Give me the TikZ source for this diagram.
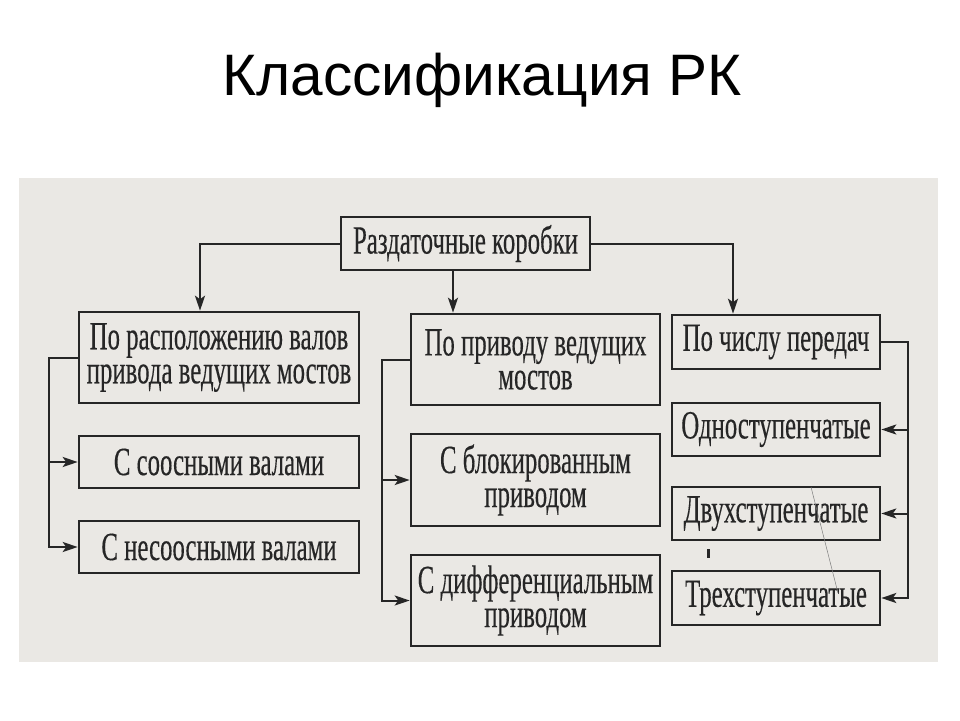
\documentclass[tikz,border=0pt]{standalone}
\usepackage{fontspec}
\setmainfont{Liberation Serif}
\newfontfamily\titlefont{Liberation Sans}
\newfontfamily\boxfont[FakeStretch=0.62,FakeBold=0.3]{Liberation Serif}
\usetikzlibrary{arrows.meta}
\definecolor{scan}{HTML}{EAE8E4}
\definecolor{ink}{HTML}{262626}
\tikzset{
  bx/.style={draw=ink, line width=2.6pt, inner sep=0pt, align=center,
    font=\boxfont\fontsize{40}{34}\selectfont, text=ink},
  conn/.style={draw=ink, line width=2pt},
  arr/.style={conn, -{Stealth[length=15pt, width=10pt, inset=3.5pt]}}
}
\begin{document}
\begin{tikzpicture}[x=1pt,y=-1pt]
\useasboundingbox[fill=white] (0,0) rectangle (960,720);
\fill[scan] (19,178) rectangle (938,662);
\node[font=\titlefont\fontsize{58.5}{60}\selectfont, anchor=base] (title) at (482,95) {Классификация РК};
% boxes
\node[bx, minimum width=249pt, minimum height=53pt] (top) at (465.5,243.5) {Раздаточные коробки};
\node[bx, minimum width=280pt, minimum height=91pt] (A1) at (219,357.5) {По расположению валов\\привода ведущих мостов};
\node[bx, minimum width=280pt, minimum height=52pt] (A2) at (219,462) {С соосными валами};
\node[bx, minimum width=280pt, minimum height=52pt] (A3) at (219,547) {С несоосными валами};
\node[bx, minimum width=249pt, minimum height=91pt] (B1) at (535.5,359.5) {По приводу ведущих\\мостов};
\node[bx, minimum width=249pt, minimum height=92pt] (B2) at (535.5,480) {С блокированным\\приводом};
\node[bx, minimum width=249pt, minimum height=91pt] (B3) at (535.5,600.5) {С дифференциальным\\приводом};
\node[bx, minimum width=208pt, minimum height=54pt] (C1) at (776,342) {По числу передач};
\node[bx, minimum width=208pt, minimum height=53pt] (C2) at (776,429.5) {Одноступенчатые};
\node[bx, minimum width=208pt, minimum height=53pt] (C3) at (776,513.5) {Двухступенчатые};
\node[bx, minimum width=208pt, minimum height=54pt] (C4) at (776,598) {Трехступенчатые};
% top connectors
\draw[arr] (top.west) -| ([xshift=-19pt]A1.north);
\draw[arr] (top.east) -| ([xshift=-43pt]C1.north);
\draw[arr] ([xshift=-12.5pt]top.south) -- ([xshift=-12.5pt]top.south |- B1.north);
% left bracket
\draw[arr] (A1.west) -- ++(-29pt,0pt) |- (A3.west);
\draw[arr] ([xshift=-29pt]A2.west) -- (A2.west);
% middle bracket
\draw[arr] (B1.west) -- ++(-28pt,0pt) |- (B3.west);
\draw[arr] ([xshift=-28pt]B2.west) -- (B2.west);
% right bracket
\draw[arr] (C1.east) -- ++(27pt,0pt) |- (C4.east);
\draw[arr] ([xshift=27pt]C2.east) -- (C2.east);
\draw[arr] ([xshift=27pt]C3.east) -- (C3.east);
% scan marks
\fill[ink] (706.5,549) rectangle (710,558);
\draw[ink!60, line width=0.5pt] (811,487) -- (838,593);
\end{tikzpicture}
\end{document}
